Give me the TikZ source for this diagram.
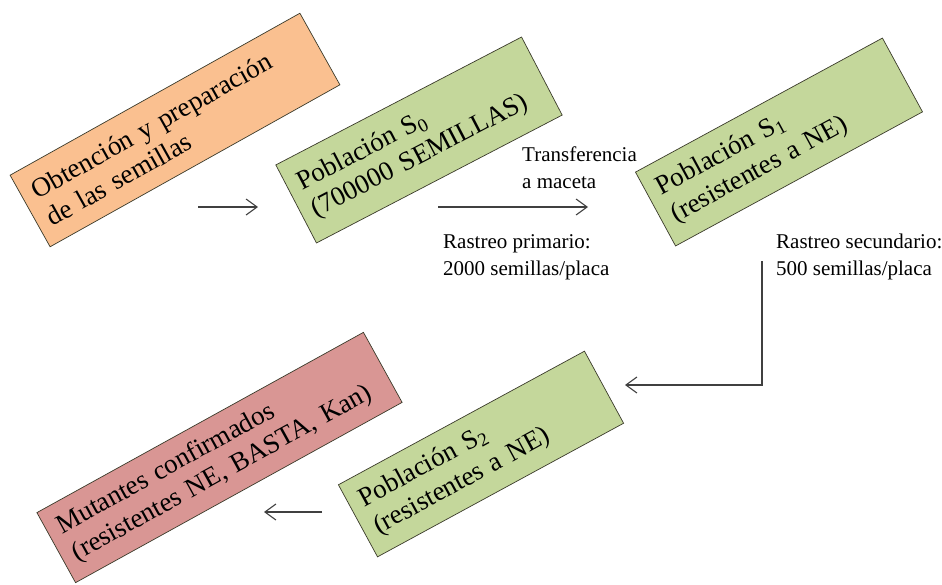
\documentclass[tikz,border=0pt]{standalone}
\usepackage{fontspec}
\setmainfont{Liberation Serif}
\usetikzlibrary{arrows.meta}
\definecolor{boxorange}{HTML}{FAC090}
\definecolor{boxgreen}{HTML}{C4D79B}
\definecolor{boxred}{HTML}{D99694}
\definecolor{boxline}{HTML}{3A3A2A}
\definecolor{arrowcol}{HTML}{404040}
\begin{document}
\begin{tikzpicture}[x=1pt,y=-1pt,
  stagebox/.style={draw=boxline, line width=0.7pt, inner xsep=12pt, inner ysep=0pt,
    align=left, font=\fontsize{27}{31}\selectfont, anchor=center},
  lbl/.style={align=left, font=\fontsize{21}{27}\selectfont, inner sep=0pt, anchor=north west},
  flow/.style={draw=arrowcol, line width=1.1pt, -{Straight Barb[length=11pt,width=16pt,line width=1.1pt]}}]
\useasboundingbox (0,0) rectangle (942,584);

\node[stagebox, fill=boxorange, rotate=29.2, text width=308pt, minimum height=82pt] (b1) at (175,130)
  {Obtención y preparación\\de las semillas};
\node[stagebox, fill=boxgreen, rotate=27.5, text width=253pt, minimum height=88pt] (b2) at (419,140)
  {Población S\textsubscript{0}\\(700000 SEMILLAS)};
\node[stagebox, fill=boxgreen, rotate=28.5, text width=257pt, minimum height=84pt] (b3) at (779,142)
  {Población S\textsubscript{1}\\(resistentes a NE)};
\node[stagebox, fill=boxgreen, rotate=28.5, text width=256pt, minimum height=82pt] (b4) at (481,454)
  {Población S\textsubscript{2}\\(resistentes a NE)};
\node[stagebox, fill=boxred, rotate=28.9, text width=349pt, minimum height=80pt] (b5) at (219.5,457.5)
  {Mutantes confirmados\\(resistentes NE, BASTA, Kan)};

\coordinate (a1s) at (198,207);
\coordinate (a1e) at (258,207);
\coordinate (a2s) at (438,207);
\coordinate (a2e) at (588,207);
\coordinate (a3s) at (762,261);
\coordinate (a3c) at (762,385);
\coordinate (a3e) at (625,385);
\coordinate (a4s) at (322,512);
\coordinate (a4e) at (264,512);

\draw[flow] (a1s) -- (a1e);
\draw[flow] (a2s) -- (a2e);
\draw[flow] (a3s) -- (a3c) -- (a3e);
\draw[flow] (a4s) -- (a4e);

\node[lbl] (t1) at (522,147) {Transferencia\\a maceta};
\node[lbl] (t2) at (443,234) {Rastreo primario:\\2000 semillas/placa};
\node[lbl] (t3) at (776,234) {Rastreo secundario:\\500 semillas/placa};
\end{tikzpicture}
\end{document}
